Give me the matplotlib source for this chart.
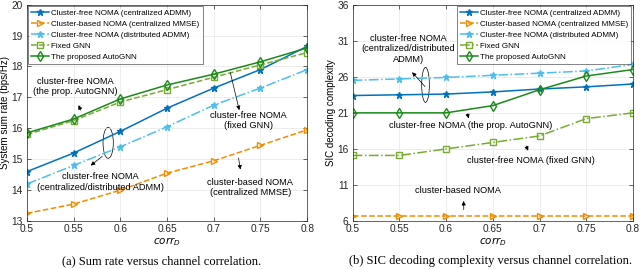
import matplotlib
matplotlib.use("Agg")
from matplotlib import pyplot as plt
from matplotlib.patches import Ellipse

plt.rcParams['font.family'] = ['Liberation Sans', 'DejaVu Sans']

corr = [0.5, 0.55, 0.6, 0.65, 0.7, 0.75, 0.8]
labels = ["Cluster-free NOMA (centralized ADMM)",
          "Cluster-based NOMA (centralized MMSE)",
          "Cluster-free NOMA (distributed ADMM)",
          "Fixed GNN",
          "The proposed AutoGNN"]

# (a) sum rate
rate_cadmm = [14.6, 15.2, 15.9, 16.65, 17.3, 17.9, 18.65]
rate_mmse = [13.25, 13.55, 14.0, 14.55, 14.95, 15.45, 15.95]
rate_dadmm = [14.2, 14.8, 15.4, 16.05, 16.75, 17.3, 17.9]
rate_fixed = [15.8, 16.25, 16.85, 17.25, 17.65, 18.05, 18.45]
rate_auto = [15.85, 16.3, 16.95, 17.4, 17.75, 18.15, 18.6]

# (b) SIC complexity
sic_cadmm = [23.4, 23.5, 23.6, 23.9, 24.3, 24.6, 25.0]
sic_mmse = [6.7, 6.7, 6.7, 6.7, 6.7, 6.7, 6.7]
sic_dadmm = [25.5, 25.7, 25.9, 26.2, 26.5, 26.8, 27.7]
sic_fixed = [15.1, 15.1, 16.0, 16.9, 17.8, 20.2, 21.0]
sic_auto = [21.0, 21.0, 21.0, 22.0, 24.2, 26.1, 27.0]

c_blue = '#0072BD'
c_orange = '#F08C00'
c_light = '#4DBEEE'
c_fixed = '#77AC30'
c_auto = '#1B8A1B'

fig = plt.figure(figsize=(6.4, 2.69), dpi=100)
ax1 = fig.add_axes([0.042, 0.178, 0.438, 0.805])
ax2 = fig.add_axes([0.551, 0.178, 0.438, 0.805])


def draw(ax, vals, fixed_ls):
    cadmm, mmse, dadmm, fixed, auto = vals
    ax.plot(corr, cadmm, '-', color=c_blue, marker='*', ms=5, lw=1.1, label=labels[0])
    ax.plot(corr, mmse, '--', color=c_orange, marker='>', ms=5, mfc='none', lw=1.1, label=labels[1])
    ax.plot(corr, dadmm, '-.', color=c_light, marker='*', ms=5, lw=1.1, label=labels[2])
    ax.plot(corr, fixed, fixed_ls, color=c_fixed, marker='s', ms=4, mfc='none', lw=1.1, label=labels[3])
    ax.plot(corr, auto, '-', color=c_auto, marker='d', ms=5, mfc='none', lw=1.1, label=labels[4])
    ax.set_xlim(0.5, 0.8)
    ax.set_xticks(corr)
    ax.set_xticklabels(['0.5', '0.55', '0.6', '0.65', '0.7', '0.75', '0.8'])
    ax.tick_params(direction='in', top=True, right=True, labelsize=7.3, length=3, width=0.5,
                   pad=2, colors='#262626')
    ax.tick_params(axis='y', pad=3)
    ax.grid(True, color='#e6e6e6', lw=0.5)
    for s in ax.spines.values():
        s.set_linewidth(0.5)
        s.set_color('#262626')
    ax.set_xlabel(r'$corr_D$', family='Liberation Serif', fontsize=7.5, labelpad=1)
    leg = ax.legend(loc='upper left' if ax is ax1 else 'upper right', fontsize=5.8,
                    frameon=True, fancybox=False, edgecolor='#262626',
                    handlelength=2.2, borderpad=0.35, labelspacing=0.42, handletextpad=0.3,
                    borderaxespad=0.2)
    leg.get_frame().set_linewidth(0.5)


draw(ax1, [rate_cadmm, rate_mmse, rate_dadmm, rate_fixed, rate_auto], '--')
draw(ax2, [sic_cadmm, sic_mmse, sic_dadmm, sic_fixed, sic_auto], '-.')

ax1.set_ylim(13, 20)
ax1.set_yticks(range(13, 21))
ax1.set_ylabel('System sum rate (bps/Hz)', fontsize=7, labelpad=1)
ax2.set_ylim(6, 36)
ax2.set_yticks(range(6, 37, 5))
ax2.set_ylabel('SIC decoding complexity', fontsize=7, labelpad=1)

tk = dict(fontsize=6.7, ha='center', va='center')
ap = dict(arrowstyle='-|>', color='k', lw=0.5, mutation_scale=6)

# annotations on (a)
ax1.text(0.552, 17.36, 'cluster-free NOMA\n(the prop. AutoGNN)', **tk)
ax1.annotate('', xy=(0.554, 16.83), xytext=(0.559, 16.5), arrowprops=ap)
ax1.text(0.737, 16.26, 'cluster-free NOMA\n(fixed GNN)', **tk)
ax1.annotate('', xy=(0.728, 16.5), xytext=(0.717, 17.89), arrowprops=ap)
ax1.add_patch(Ellipse((0.587, 15.53), 0.011, 1.0, angle=0, fill=False, lw=0.5, ec='k'))
ax1.annotate('', xy=(0.566, 14.74), xytext=(0.583, 15.15), arrowprops=ap)
ax1.text(0.579, 14.26, 'cluster-free NOMA\n(centralized/distributed ADMM)', **tk)
ax1.text(0.739, 14.09, 'cluster-based NOMA\n(centralized MMSE)', **tk)
ax1.annotate('', xy=(0.729, 14.58), xytext=(0.726, 15.13), arrowprops=ap)

# annotations on (b)
ax2.text(0.5595, 29.85, 'cluster-free NOMA\n(centralized/distributed\nADMM)', **tk)
ax2.add_patch(Ellipse((0.578, 24.87), 0.0082, 4.84, fill=False, lw=0.5, ec='k'))
ax2.annotate('', xy=(0.5617, 26.91), xytext=(0.5795, 24.34), arrowprops=ap)
ax2.text(0.626, 19.31, 'cluster-free NOMA (the prop. AutoGNN)', **tk)
ax2.annotate('', xy=(0.625, 19.86), xytext=(0.622, 21.24), arrowprops=ap)
ax2.text(0.691, 14.33, 'cluster-free NOMA (fixed GNN)', **tk)
ax2.annotate('', xy=(0.689, 15.4), xytext=(0.6845, 16.77), arrowprops=ap)
ax2.text(0.613, 10.18, 'cluster-based NOMA', **tk)
ax2.annotate('', xy=(0.6187, 9.17), xytext=(0.619, 7.19), arrowprops=ap)

fig.text(0.252, 0.028, '(a) Sum rate versus channel correlation.', family='Liberation Serif',
         fontsize=9, ha='center', va='center')
fig.text(0.766, 0.028, '(b) SIC decoding complexity versus channel correlation.',
         family='Liberation Serif', fontsize=9, ha='center', va='center')

fig.savefig('out.png', dpi=100)
